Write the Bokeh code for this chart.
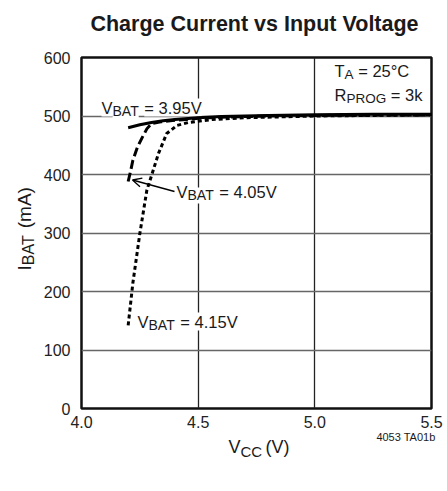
from bokeh.plotting import figure
from bokeh.models import Label, Arrow, OpenHead, FixedTicker, PrintfTickFormatter
from bokeh.embed import file_html
from bokeh.resources import INLINE
import math

# ---- data ----
v_395 = [4.20, 4.25, 4.30, 4.35, 4.40, 4.50, 4.60, 4.80, 5.00, 5.25, 5.50]
i_395 = [480, 485, 489, 492, 494, 497, 499, 501, 502, 503, 503]

v_405 = [4.20, 4.21, 4.22, 4.24, 4.26, 4.28, 4.30, 4.34, 4.38, 4.45, 4.50, 4.60, 4.80, 5.00, 5.50]
i_405 = [388, 405, 424, 447, 463, 478, 487, 490, 492, 494, 496, 498, 500, 501, 502]

v_415 = [4.20, 4.22, 4.25, 4.28, 4.30, 4.33, 4.365, 4.41, 4.46, 4.56, 4.70, 5.00, 5.50]
i_415 = [142, 214, 299, 373, 398, 436, 470, 484, 489, 494, 497, 500, 502]

x_ticks = [4.0, 4.5, 5.0, 5.5]
y_ticks = [0, 100, 200, 300, 400, 500, 600]

TITLE = "Charge Current vs Input Voltage"
FONT = "Liberation Sans"
INK = "#1a1a1a"
NB = "\u00a0"

# Arial-compatible advance widths (per em) for width estimates
W = {" ": .278, NB: .278, "(": .333, ")": .333, "=": .584, ".": .278, "°": .4, "A": .667,
     "B": .667, "C": .722, "G": .778, "I": .278, "O": .778, "P": .667, "R": .722, "T": .611,
     "V": .667, "a": .556, "k": .5, "m": .833, "b": .556}
def tw(s, size):
    return sum(W.get(c, .556) for c in s) * size

# frame geometry (page px)
WID, HEI = 447, 488
FL, FR, FT, FB = 81, 431, 57, 408
def X(px):
    return 4.0 + (px - FL) * 1.5 / (FR - FL)
def Y(py):
    return (FB - py) * 600.0 / (FB - FT)

p = figure(width=WID, height=HEI, x_range=(4.0, 5.5), y_range=(0, 600), title=None,
           min_border_left=FL, min_border_right=WID - FR, min_border_top=FT,
           min_border_bottom=HEI - FB,
           output_backend="svg", toolbar_location=None)
p.background_fill_color = "white"
p.border_fill_color = "white"
p.outline_line_color = "#111111"
p.outline_line_width = 2.5

for ax in (p.xaxis, p.yaxis):
    ax.axis_line_color = None
    ax.major_tick_line_color = None
    ax.minor_tick_line_color = None
    ax.major_tick_out = 0
    ax.major_tick_in = 0
    ax.minor_tick_out = 0
    ax.major_label_text_font = FONT
    ax.major_label_text_font_size = "16px"
    ax.major_label_text_color = "#222222"
p.xaxis.ticker = FixedTicker(ticks=x_ticks)
p.xaxis.formatter = PrintfTickFormatter(format="%.1f")
p.yaxis.ticker = FixedTicker(ticks=y_ticks)
p.xaxis.major_label_standoff = 7
p.yaxis.major_label_standoff = 11

p.xgrid.ticker = FixedTicker(ticks=x_ticks)
p.ygrid.ticker = FixedTicker(ticks=y_ticks)
p.xgrid.grid_line_color = "#222222"
p.xgrid.grid_line_width = 1.3
p.ygrid.grid_line_color = "#666666"
p.ygrid.grid_line_width = 1.5

p.line(v_415, i_415, line_color="black", line_width=3, line_dash="4 3", level="overlay")
p.line(v_405, i_405, line_color="black", line_width=3, line_dash="9 4", level="overlay")
p.line(v_395, i_395, line_color="black", line_width=3, level="overlay")

def mk(px, py, text, size, bg=None, angle=0.0, align="left", style="normal"):
    """px, py: wanted baseline start in page pixels (corrected for how the label is anchored)."""
    kw = {}
    if bg:
        kw["background_fill_color"] = bg
    if angle:
        px = px - 0.36 * size
    else:
        py = py - 0.36 * size
    return Label(x=X(px), y=Y(py), text=text, text_font=FONT, text_font_size=f"{size}px",
                 text_font_style=style, text_color=INK, text_align=align,
                 text_baseline="alphabetic", angle=angle, **kw)

def sublabel(px, py, main, sub, rest, size=16.5, subsize=14, bg="white"):
    p.add_layout(mk(px, py, main, size, bg=bg))
    x2 = px + tw(main, size)
    p.add_layout(mk(x2, py + 3, sub, subsize, bg=bg))
    x3 = x2 + tw(sub, subsize) + tw(" ", size)
    p.add_layout(mk(x3, py, rest, size, bg=bg))

# title (in the top panel, so it is not clipped by the frame)
p.add_layout(mk(254, 31, TITLE, 21.5, align="center", style="bold"), "above")

# curve labels
sublabel(101, 113, "V", "BAT", "= 3.95V")
sublabel(176, 197, "V", "BAT", "= 4.05V")
sublabel(137, 327, "V", "BAT", "= 4.15V")

# conditions
sublabel(334, 76, "T", "A", "= 25°C", bg=None, subsize=13.5)
sublabel(334, 100, "R", "PROG", "= 3k", bg=None, subsize=13.5)

# arrow to V_BAT = 4.05V curve
p.add_layout(Arrow(end=OpenHead(size=9, line_width=1.3, line_color="black"),
                   x_start=X(174), y_start=Y(191), x_end=X(132), y_end=Y(179.5),
                   line_width=1.3, line_color="black"))

# axis labels with subscripts: main text with a non-breaking gap + subscript label,
# placed in the side panels so they are not clipped by the frame
def gapped(main, sub, rest, size, subsize):
    n = max(1, round((tw(sub, subsize) + tw(" ", size)) / tw(NB, size)))
    return main + NB * n + rest

AS, ASS = 18, 15
p.add_layout(mk(228, 453, gapped("V", "CC", "(V)", AS, ASS), AS), "below")
p.add_layout(mk(228 + tw("V", AS), 456, "CC", ASS), "below")

A = math.pi / 2
YS, YSS = 19, 16
Y0 = 270
p.add_layout(mk(31, Y0, gapped("I", "BAT", "(mA)", YS, YSS), YS, angle=A), "left")
p.add_layout(mk(34, Y0 - tw("I", YS), "BAT", YSS, angle=A), "left")

# figure code
p.add_layout(mk(435, 440, "4053 TA01b", 11, align="right"), "below")

open("out.html", "w").write(file_html(p, INLINE))
